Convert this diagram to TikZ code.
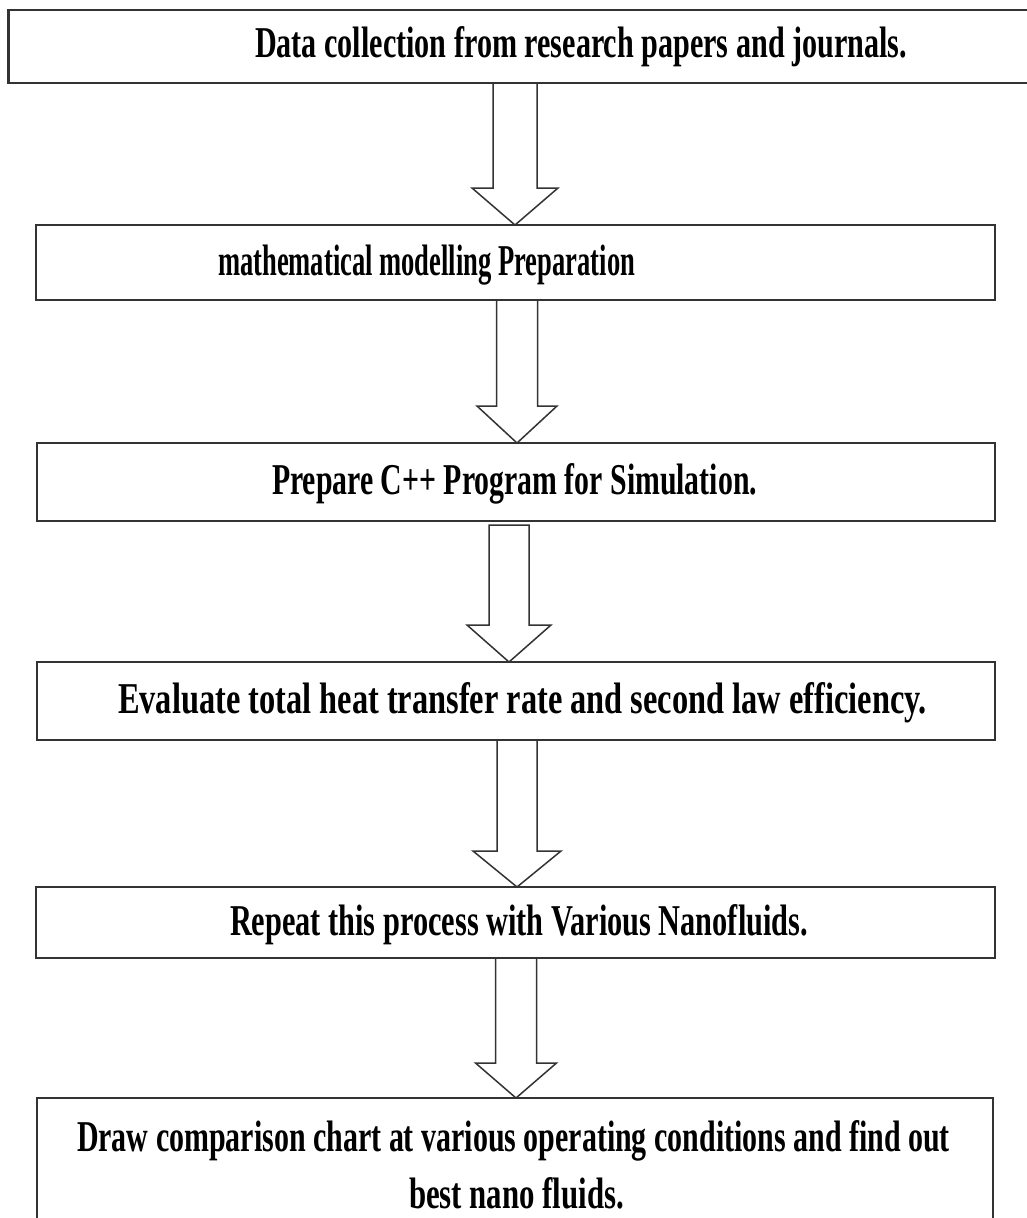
\documentclass[tikz,border=0pt]{standalone}
\usepackage{fontspec}
\setmainfont{Liberation Serif}
\usetikzlibrary{calc}
\definecolor{boxgray}{HTML}{333333}
\tikzset{
  boxst/.style={draw=boxgray, line width=2.2pt, rectangle, inner sep=0pt, outer sep=0pt, anchor=north west},
  txt/.style={anchor=base west, inner sep=0pt, outer sep=0pt, text=black, font=\bfseries\fontsize{44}{44}\selectfont},
  fat/.style={draw=boxgray, line width=1.5pt, line join=miter}
}
\newcommand\fitto[2]{\resizebox{#1pt}{\height}{#2}}
% #1 from node, #2 to node, #3 x centre, #4 shaft half width, #5 head half width, #6 head length, #7 top gap
\newcommand\fatarrow[7]{%
  \draw[fat] let \p1=(#1.south), \p2=(#2.north) in
    (#3pt-#4pt,\y1-#7pt) -- (#3pt-#4pt,\y2+#6pt) -- (#3pt-#5pt,\y2+#6pt) -- (#3pt,\y2)
    -- (#3pt+#5pt,\y2+#6pt) -- (#3pt+#4pt,\y2+#6pt) -- (#3pt+#4pt,\y1-#7pt) -- cycle;}
\begin{document}
\begin{tikzpicture}[x=1pt,y=-1pt]
\fill[white] (0,0) rectangle (1027,1218);
\clip (0,0) rectangle (1027,1218);
% boxes
\node[boxst, minimum width=1031.5pt, minimum height=73pt] (b1) at (8.5,10) {};
\node[boxst, minimum width=959pt, minimum height=75pt] (b2) at (36,225) {};
\node[boxst, minimum width=958pt, minimum height=78pt] (b3) at (37,443) {};
\node[boxst, minimum width=958pt, minimum height=78pt] (b4) at (37,662) {};
\node[boxst, minimum width=959pt, minimum height=71pt] (b5) at (36,887) {};
\node[boxst, minimum width=956pt, minimum height=150pt] (b6) at (37,1098) {};
% texts
\node[txt] (t1) at (255,57) {\fitto{652}{Data collection from research papers and journals.}};
\node[txt] (t2) at (218,275) {\fitto{417}{mathematical modelling Preparation}};
\node[txt] (t3) at (272,494) {\fitto{485}{Prepare C++ Program for Simulation.}};
\node[txt] (t4) at (118,713) {\fitto{809}{Evaluate total heat transfer rate and second law efficiency.}};
\node[txt] (t5) at (230,935) {\fitto{578}{Repeat this process with Various Nanofluids.}};
\node[txt] (t6a) at (77,1151) {\fitto{873}{Draw comparison chart at various operating conditions and find out}};
\node[txt] (t6b) at (409,1208) {\fitto{215}{best nano fluids.}};
% arrows
\fatarrow{b1}{b2}{515}{22}{43}{37}{0}
\fatarrow{b2}{b3}{517}{20.5}{40}{37}{0}
\fatarrow{b3}{b4}{509}{20}{42}{37}{4}
\fatarrow{b4}{b5}{517}{20}{44}{36}{0}
\fatarrow{b5}{b6}{516}{20.5}{40.5}{35}{0}
\end{tikzpicture}
\end{document}
